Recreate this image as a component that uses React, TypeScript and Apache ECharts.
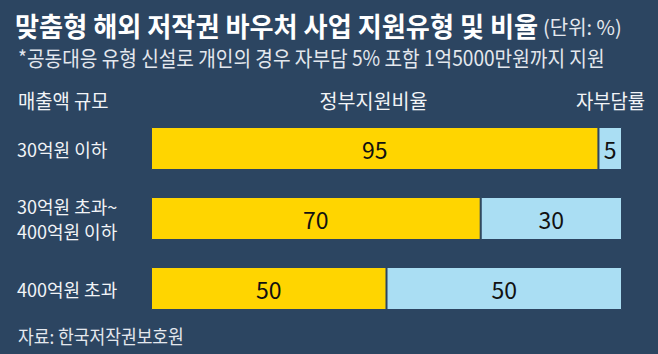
import React, { useEffect, useRef } from "react";
import * as echarts from "echarts";

const categories = ["30억원 이하", "30억원 초과~\n400억원 이하", "400억원 초과"];
const govSupport = [95, 70, 50];
const selfPay = [5, 30, 50];

const titleText = "맞춤형 해외 저작권 바우처 사업 지원유형 및 비율";
const unitText = "(단위: %)";
const subtitleText = "*공동대응 유형 신설로 개인의 경우 자부담 5% 포함 1억5000만원까지 지원";
const headerLeft = "매출액 규모";
const headerMid = "정부지원비율";
const headerRight = "자부담률";
const sourceText = "자료: 한국저작권보호원";

const BG = "#2c4561";
const FONT = "Noto Sans CJK KR";

export default function App() {
  const ref = useRef<HTMLDivElement>(null);
  useEffect(() => {
    if (!ref.current) return;
    const chart = echarts.init(ref.current, undefined, { renderer: "svg" });
    const txt = (text: string, x: number, y: number, size: number, opts: any = {}) => ({
      type: "text",
      x,
      y,
      scaleX: opts.scaleX ?? 1,
      style: {
        text,
        x: 0,
        y: 0,
        fill: opts.color ?? "#ffffff",
        fontSize: size,
        fontWeight: opts.weight ?? "normal",
        fontFamily: FONT,
        align: opts.align ?? "left",
        verticalAlign: "middle",
      },
    });
    chart.setOption({
      animation: false,
      backgroundColor: BG,
      textStyle: { fontFamily: FONT },
      graphic: [
        txt(titleText, 15, 25, 27, { weight: "bold", scaleX: 0.97 }),
        txt(unitText, 543, 26, 20, { scaleX: 1.0, color: "#e4e8ee" }),
        txt(subtitleText, 18, 57, 21, { scaleX: 0.912, color: "#e4e8ee" }),
        txt(headerLeft, 18, 100, 20, { scaleX: 0.94, color: "#f2f4f7" }),
        txt(headerMid, 373.5, 100, 20, { scaleX: 0.98, align: "center", color: "#f2f4f7" }),
        txt(headerRight, 645, 100, 20, { scaleX: 0.94, align: "right", color: "#f2f4f7" }),
        txt(sourceText, 18, 336, 19, { scaleX: 0.9, color: "#e4e8ee" }),
      ],
      grid: { left: 151, right: 36, top: 113.5, bottom: 30.5 },
      xAxis: {
        type: "value",
        min: 0,
        max: 100,
        show: false,
      },
      yAxis: {
        type: "category",
        data: categories,
        inverse: true,
        axisLine: { show: false },
        axisTick: { show: false },
        splitLine: { show: false },
        axisLabel: {
          color: "#f2f4f7",
          fontSize: 18,
          fontFamily: FONT,
          align: "left",
          margin: 134,
          lineHeight: 25,
        },
      },
      series: [
        {
          name: headerMid,
          type: "bar",
          stack: "total",
          data: govSupport,
          barWidth: 43,
          itemStyle: { color: "#FFD500", borderColor: BG, borderWidth: 1 },
          label: { show: true, position: "inside", color: "#111111", fontSize: 23, fontFamily: FONT },
        },
        {
          name: headerRight,
          type: "bar",
          stack: "total",
          data: selfPay,
          barWidth: 43,
          itemStyle: { color: "#AADEF3", borderColor: BG, borderWidth: 1 },
          label: { show: true, position: "inside", color: "#111111", fontSize: 23, fontFamily: FONT },
        },
      ],
    });
    return () => chart.dispose();
  }, []);
  return (
    <div
      ref={ref}
      style={{ position: "fixed", left: 0, top: 0, width: 658, height: 354 }}
    />
  );
}
